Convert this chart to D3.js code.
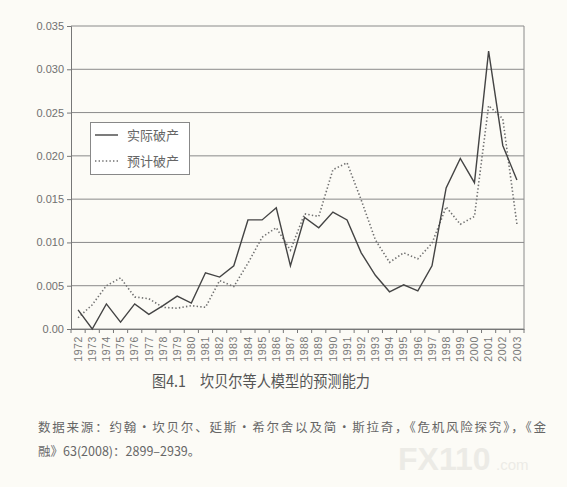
<!DOCTYPE html>
<html><head><meta charset="utf-8">
<script src="https://cdn.jsdelivr.net/npm/d3@7"></script>
<style>
html,body{margin:0;padding:0;background:#fcfbf6;}
svg{display:block;}
</style></head>
<body>
<script>
const years = d3.range(1972, 2004).map(String);
const actual = [0.0022,0.0000,0.0029,0.0008,0.0029,0.0017,0.0027,0.0038,0.0030,0.0065,0.0060,0.0073,0.0126,0.0126,0.0140,0.0073,0.0129,0.0117,0.0135,0.0126,0.0088,0.0062,0.0043,0.0051,0.0044,0.0073,0.0163,0.0197,0.0169,0.0321,0.0212,0.0172];
const predicted = [0.0013,0.0028,0.0050,0.0059,0.0037,0.0035,0.0025,0.0024,0.0027,0.0025,0.0056,0.0049,0.0076,0.0106,0.0117,0.0091,0.0133,0.0130,0.0184,0.0192,0.0149,0.0103,0.0077,0.0088,0.0081,0.0099,0.0141,0.0121,0.0130,0.0258,0.0243,0.0121];
const yTicks = [0, 0.005, 0.010, 0.015, 0.020, 0.025, 0.030, 0.035];
const yTickLabels = ["0.00","0.005","0.010","0.015","0.020","0.025","0.030","0.035"];
const seriesNames = ["实际破产","预计破产"];
const caption = "图4.1　坎贝尔等人模型的预测能力";
const sourceLines = ["数据来源：约翰·坎贝尔、延斯·希尔舍以及简·斯拉奇，《危机风险探究》，《金","融》63(2008)：2899–2939。"];

const W = 567, H = 487;
const m = {left:71, right:524, top:26, bottom:329};
const svg = d3.select("body").append("svg").attr("width", W).attr("height", H);

const x = d3.scaleBand().domain(years).range([m.left, m.right]);
const y = d3.scaleLinear().domain([0, 0.035]).range([m.bottom, m.top]);

// watermark (behind everything)
const wm = svg.append("g");
wm.append("text").attr("x", 398).attr("y", 470)
  .attr("fill", "#ecebe6").style("font-family", "'Liberation Sans', Arial, sans-serif").style("font-size", "32px").style("font-weight", "bold")
  .text("FX110");
wm.append("text").attr("x", 496).attr("y", 470)
  .attr("fill", "#ecebe6").style("font-family", "'Liberation Sans', Arial, sans-serif").style("font-size", "15px")
  .text(".com");

// gridlines
svg.append("g").selectAll("line").data(yTicks).join("line")
  .attr("x1", m.left).attr("x2", m.right)
  .attr("y1", d => y(d)).attr("y2", d => y(d))
  .attr("stroke", "#8a8a8a").attr("stroke-width", 1);

// right border
svg.append("line").attr("x1", m.right).attr("x2", m.right).attr("y1", m.top).attr("y2", m.bottom)
  .attr("stroke", "#8a8a8a");

// y axis
const yAxis = d3.axisLeft(y).tickValues(yTicks).tickFormat((d,i) => yTickLabels[i]).tickSize(4).tickPadding(3);
const gy = svg.append("g").attr("transform", `translate(${m.left},0)`).call(yAxis);
gy.select(".domain").attr("stroke", "#777");
gy.selectAll(".tick line").attr("stroke", "#777");
gy.selectAll("text").attr("fill", "#707070").style("font-family", "'Liberation Sans', Arial, sans-serif").style("font-size", "11px");

// x axis
const xAxis = d3.axisBottom(x).tickSize(0).tickPadding(0);
const gx = svg.append("g").attr("transform", `translate(0,${m.bottom})`).call(xAxis);
gx.select(".domain").attr("stroke", "#777");
gx.selectAll(".tick text")
  .attr("fill", "#777")
  .style("font-family", "'Liberation Sans', Arial, sans-serif").style("font-size", "10.5px")
  .style("letter-spacing", "0.6px")
  .attr("transform", "rotate(-90)")
  .attr("text-anchor", "end")
  .attr("x", -7).attr("y", 0).attr("dy", "0.35em");
// boundary tick marks
const bounds = years.map(d => x(d)).concat([m.right]);
svg.append("g").selectAll("line").data(bounds).join("line")
  .attr("x1", d => d).attr("x2", d => d).attr("y1", m.bottom).attr("y2", m.bottom + 4)
  .attr("stroke", "#777");

const cx = d => x(d) + x.bandwidth()/2;
const line = d3.line().x((d,i) => cx(years[i])).y(d => y(d));

svg.append("path").datum(predicted).attr("d", line)
  .attr("fill", "none").attr("stroke", "#707070").attr("stroke-width", 1.6)
  .attr("stroke-dasharray", "1.4,2.2");
svg.append("path").datum(actual).attr("d", line)
  .attr("fill", "none").attr("stroke", "#444").attr("stroke-width", 1.4).attr("stroke-linejoin", "miter");

// legend
const lg = svg.append("g");
lg.append("rect").attr("x", 90.5).attr("y", 122.5).attr("width", 99).attr("height", 52)
  .attr("fill", "#fff").attr("stroke", "#888");
lg.append("line").attr("x1", 95).attr("x2", 118).attr("y1", 135).attr("y2", 135).attr("stroke", "#444").attr("stroke-width", 1.4);
lg.append("line").attr("x1", 95).attr("x2", 118).attr("y1", 161).attr("y2", 161).attr("stroke", "#707070").attr("stroke-width", 1.6).attr("stroke-dasharray", "1.4,2.2");
lg.selectAll("text").data(seriesNames).join("text")
  .attr("x", 127).attr("y", (d,i) => 135 + i*26).attr("dy", "0.35em")
  .attr("fill", "#666").style("font-family", "'Noto Sans CJK SC', sans-serif").style("font-size", "13px")
  .text(d => d);

// caption
svg.append("text").attr("x", 152).attr("y", 387).attr("text-anchor", "start")
  .attr("fill", "#555").style("font-family", "'Noto Sans CJK SC', sans-serif").style("font-size", "15.5px")
  .attr("textLength", 218).attr("lengthAdjust", "spacingAndGlyphs")
  .text(caption);

const src = svg.append("g").selectAll("text").data(sourceLines).join("text")
  .attr("x", 38).attr("y", (d,i) => 432 + i*24)
  .attr("fill", "#666").style("font-family", "'Noto Sans CJK SC', sans-serif").style("font-size", "12.5px")
  .text(d => d);
src.filter((d,i) => i === 0).attr("textLength", 508).attr("lengthAdjust", "spacing");
</script>
</body></html>
